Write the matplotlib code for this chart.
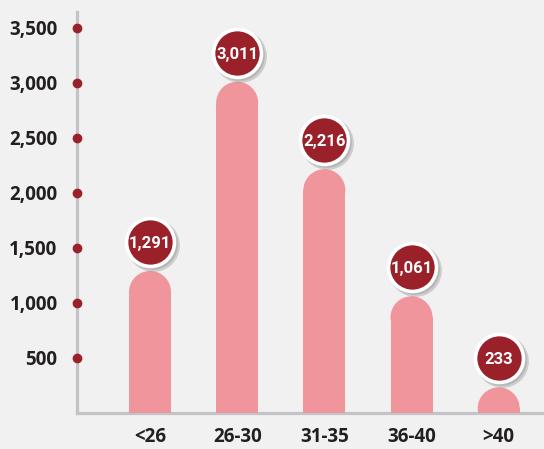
import numpy as np
import matplotlib
matplotlib.use("Agg")
import matplotlib.pyplot as plt
from matplotlib.patches import Rectangle, Ellipse
from matplotlib import transforms

# age groups and headcount
groups = ["<26", "26-30", "31-35", "36-40", ">40"]
counts = [1291, 3011, 2216, 1061, 233]
yticks = [500, 1000, 1500, 2000, 2500, 3000, 3500]

bg = "#f1f1f1"
bar_col = "#ef959b"
red = "#9a2129"
axis_col = "#c4c4c8"
txt_col = "#231f20"

fig = plt.figure(figsize=(5.44, 4.49), dpi=100, facecolor=bg)
W, H = 544, 449
ax = fig.add_axes([77 / W, (H - 413) / H, (544 - 77) / W, (413 - 12) / H])
ax.set_facecolor(bg)

x = np.arange(len(groups))
ax.set_xlim(-0.838, 4.52)
ax.set_ylim(0, 3645)

# pixels per data unit, used to make round caps look round
px_x = ax.get_window_extent().width / (4.52 + 0.838)
px_y = ax.get_window_extent().height / 3645

bar_w = 42 / px_x
r_y = 21 / px_y
for xi, v in zip(x, counts):
    ax.add_patch(Rectangle((xi - bar_w / 2, 0), bar_w, v - r_y, color=bar_col, lw=0, zorder=2))
    ax.add_patch(Ellipse((xi, v - r_y), bar_w, 2 * r_y, color=bar_col, lw=0, zorder=2))

# value badges above each bar
lift = transforms.offset_copy(ax.transData, fig=fig, x=0, y=29, units="dots")
shadow = transforms.offset_copy(ax.transData, fig=fig, x=3, y=26, units="dots")
ax.plot(x, counts, "o", ms=38, color="#8c8c8c", alpha=0.35, mec="none",
        transform=shadow, clip_on=False, zorder=3)
ax.plot(x, counts, "o", ms=36.5, color="#9a9a9a", alpha=0.45, mec="none",
        transform=transforms.offset_copy(ax.transData, fig=fig, x=2, y=27, units="dots"),
        clip_on=False, zorder=3)
ax.plot(x, counts, "o", ms=34.5, color=red, mec="white", mew=2.6,
        transform=lift, clip_on=False, zorder=4)
for xi, v in zip(x, counts):
    ax.text(xi, v, f"{v:,}", transform=lift, ha="center", va="center_baseline",
            color="white", fontsize=12, fontweight="bold",
            family=["Roboto", "DejaVu Sans"], zorder=5)

# axes styling
for s in ["top", "right"]:
    ax.spines[s].set_visible(False)
for s in ["left", "bottom"]:
    ax.spines[s].set_color(axis_col)
    ax.spines[s].set_linewidth(2.3)
    ax.spines[s].set_zorder(1)

ax.set_yticks(yticks)
ax.set_yticklabels([f"{t:,}" for t in yticks])
ax.set_xticks(x)
ax.set_xticklabels(groups)
ax.tick_params(length=0)
ax.tick_params(axis="y", pad=14)
ax.tick_params(axis="x", pad=10)
for lab in ax.get_yticklabels() + ax.get_xticklabels():
    lab.set_family(["Open Sans", "DejaVu Sans"])
    lab.set_fontweight("bold")
    lab.set_fontsize(13.5)
    lab.set_color(txt_col)

# tick dots on the y axis
ax.plot(np.zeros(len(yticks)), yticks, "o", ms=6, color=red,
        transform=transforms.blended_transform_factory(ax.transAxes, ax.transData),
        clip_on=False, zorder=6)

fig.savefig("out.png", dpi=100, facecolor=bg)
